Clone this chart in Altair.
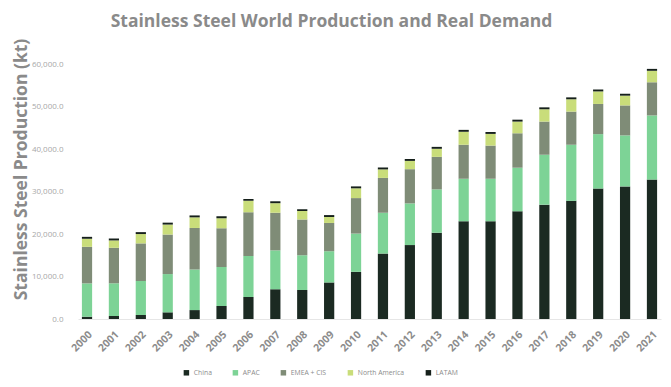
import altair as alt
import pandas as pd

years = [str(y) for y in range(2000, 2022)]
series = ["China", "APAC", "EMEA + CIS", "North America", "LATAM"]
colors = ["#1b2a22", "#7dd396", "#7f8c77", "#c9dd7a", "#16201b"]
title_text = "Stainless Steel World Production and Real Demand"

china = [540, 700, 940, 1570, 2100, 3050, 5200, 7000, 6800, 8600, 11100,
         15400, 17400, 20300, 23000, 23000, 25350, 26900, 27800, 30700, 31200, 32800]
apac = [7840, 7700, 8000, 9000, 9550, 9200, 9600, 9150, 8200, 7350, 9000,
        9600, 9800, 10200, 10000, 10000, 10250, 11750, 13200, 12800, 12000, 15100]
emea = [8600, 8350, 8850, 9300, 9770, 9100, 10300, 8850, 8400, 6650, 8350,
        8200, 8050, 7650, 8000, 7800, 8100, 7800, 7800, 7100, 7050, 7800]
north_america = [1900, 1740, 2200, 2350, 2500, 2350, 2700, 2250, 2000, 1400, 2300,
                 2000, 1950, 1900, 3050, 2750, 2750, 2900, 2900, 2950, 2300, 2700]
latam = [450, 450, 450, 450, 450, 450, 450, 450, 450, 450, 450,
         450, 450, 450, 450, 450, 450, 450, 450, 450, 450, 450]

values = [china, apac, emea, north_america, latam]
rows = []
for si, (name, vals) in enumerate(zip(series, values)):
    for y, v in zip(years, vals):
        rows.append({"Year": y, "Region": name, "idx": si, "kt": v})
df = pd.DataFrame(rows)

FONT = "Open Sans"

chart = alt.Chart(df).mark_bar().encode(
    x=alt.X("Year:N", sort=years,
            scale=alt.Scale(paddingInner=0.62, paddingOuter=0.145),
            axis=alt.Axis(title=None, labelAngle=315, ticks=False, labelPadding=10,
                          labelFont=FONT, labelFontSize=10.5, labelFontWeight="bold",
                          labelColor="#8c8c8c", domainColor="#e6e6e6")),
    y=alt.Y("kt:Q", stack="zero",
            scale=alt.Scale(domain=[0, 60000], nice=False),
            axis=alt.Axis(title="Stainless Steel Production (kt)", values=[0, 10000, 20000, 30000, 40000, 50000, 60000],
                          format=",.1f", grid=False, ticks=False, domain=False,
                          labelPadding=15, labelFont=FONT, labelFontSize=8,
                          labelColor="#a8a8a8",
                          titleFont=FONT, titleFontSize=17.5, titleFontWeight="bold",
                          titleColor="#8a8a8a", titleAngle=270, titleBaseline="alphabetic",
                          titleAlign="center", titleX=-52, titleY=105)),
    color=alt.Color("Region:N",
                    scale=alt.Scale(domain=series, range=colors),
                    legend=alt.Legend(title=None, orient="none", legendX=105, legendY=305,
                                      direction="horizontal", symbolType="square",
                                      symbolSize=30, symbolStrokeWidth=0,
                                      labelFont=FONT, labelFontSize=6.8,
                                      labelColor="#8c8c8c", columnPadding=20,
                                      labelOffset=4)),
    order=alt.Order("idx:Q", sort="ascending"),
).properties(
    width=583, height=255,
    title=alt.TitleParams(title_text, font=FONT, fontSize=17.5, fontWeight="bold",
                          color="#8a8a8a", anchor="middle", frame="group",
                          dx=-38, offset=16, dy=22, baseline="alphabetic"),
    autosize=alt.AutoSizeParams(type="none"),
    padding={"left": 70, "top": 56, "right": 2, "bottom": 60},
).configure_view(stroke=None)

chart.save("out.html", embed_options={"renderer": "svg", "actions": False})
